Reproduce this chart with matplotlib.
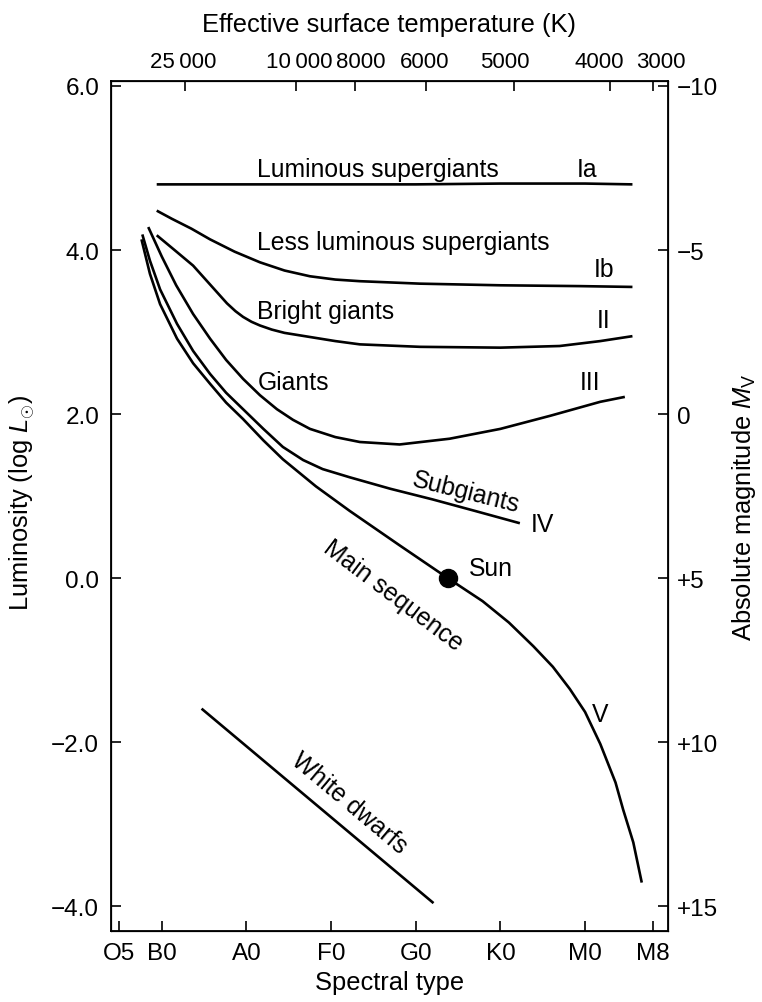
import matplotlib
matplotlib.use("Agg")
import matplotlib.pyplot as plt
import numpy as np

plt.rcParams['font.family'] = ['Liberation Sans', 'DejaVu Sans']
plt.rcParams['mathtext.fontset'] = 'custom'
plt.rcParams['mathtext.rm'] = 'Liberation Sans'
plt.rcParams['mathtext.it'] = 'Liberation Sans:italic'

# ---- data ----
spec_labels = ["O5", "B0", "A0", "F0", "G0", "K0", "M0", "M8"]
spec_pos = [0.5, 1, 2, 3, 4, 5, 6, 6.8]

temp_labels = ["25\u2009000", "10\u2009000", "8000", "6000", "5000", "4000", "3000"]
temp_pos = [1.27, 2.58, 3.28, 4.12, 5.16, 6.30, 6.80]
temp_label_pos = [1.25, 2.62, 3.35, 4.11, 5.05, 6.17, 6.89]

lum_ticks = [6, 4, 2, 0, -2, -4]
lum_labels = ["6.0", "4.0", "2.0", "0.0", "\u22122.0", "\u22124.0"]

mag_ticks = [-10, -5, 0, 5, 10, 15]
mag_labels = ["\u221210", "\u22125", "0", "+5", "+10", "+15"]

ia_x = [0.94, 2.0, 3.0, 4.0, 5.0, 6.0, 6.56]
ia_y = [4.80, 4.80, 4.80, 4.80, 4.81, 4.81, 4.80]

ib_x = [0.94, 1.12, 1.35, 1.57, 1.86, 2.16, 2.45, 2.75, 3.05, 3.34, 4.05, 5.00, 5.94, 6.56]
ib_y = [4.48, 4.38, 4.26, 4.13, 3.98, 3.85, 3.75, 3.68, 3.64, 3.62, 3.59, 3.57, 3.56, 3.55]

ii_x = [0.94, 1.15, 1.37, 1.57, 1.77, 1.87, 1.96, 2.06, 2.16, 2.30, 2.45, 2.75, 3.05, 3.34, 4.05, 5.00, 5.70, 6.18, 6.56]
ii_y = [4.18, 4.00, 3.81, 3.58, 3.35, 3.255, 3.185, 3.125, 3.08, 3.03, 2.99, 2.94, 2.89, 2.85, 2.82, 2.81, 2.83, 2.89, 2.95]

iii_x = [0.84, 1.00, 1.17, 1.37, 1.57, 1.76, 1.96, 2.16, 2.36, 2.55, 2.75, 3.05, 3.34, 3.81, 4.40, 5.00, 5.59, 6.18, 6.47]
iii_y = [4.28, 3.92, 3.57, 3.22, 2.92, 2.66, 2.43, 2.23, 2.06, 1.93, 1.82, 1.72, 1.66, 1.63, 1.70, 1.82, 1.98, 2.15, 2.21]

iv_x = [0.77, 0.86, 0.98, 1.18, 1.37, 1.57, 1.76, 1.96, 2.20, 2.43, 2.67, 2.90, 3.22, 3.70, 4.20, 4.70, 5.23]
iv_y = [4.19, 3.87, 3.52, 3.10, 2.77, 2.49, 2.26, 2.06, 1.82, 1.60, 1.44, 1.33, 1.23, 1.09, 0.96, 0.82, 0.67]

v_x = [0.76, 0.86, 0.98, 1.18, 1.37, 1.57, 1.76, 1.96, 2.20, 2.43, 2.82, 3.22, 3.81, 4.38, 4.79, 5.10, 5.39, 5.62, 5.82, 6.00, 6.18, 6.36, 6.45, 6.57, 6.67]
v_y = [4.13, 3.71, 3.34, 2.92, 2.62, 2.37, 2.14, 1.94, 1.68, 1.45, 1.12, 0.82, 0.40, 0.00, -0.28, -0.54, -0.83, -1.08, -1.35, -1.63, -2.02, -2.49, -2.82, -3.22, -3.71]

wd_x = [1.47, 4.21]
wd_y = [-1.59, -3.96]

sun_x, sun_y = 4.38, 0.0

# ---- figure ----
fig = plt.figure(figsize=(7.62, 10.03), dpi=100)
ax = fig.add_axes([111/762, 1 - 932/1003, (668-111)/762, (932-82)/1003])
XLIM = (0.4, 6.98)
YLIM = (-4.3, 6.06)
ax.set_xlim(*XLIM)
ax.set_ylim(*YLIM)

lw = 1.9
for xs, ys in [(ia_x, ia_y), (ib_x, ib_y), (ii_x, ii_y), (iii_x, iii_y),
               (iv_x, iv_y), (v_x, v_y), (wd_x, wd_y)]:
    ax.plot(xs, ys, color='black', lw=lw, solid_capstyle='butt', solid_joinstyle='round')
ax.plot([sun_x], [sun_y], 'o', color='black', ms=13)

fs_tick = 17.5
fs_top = 16
fs_lab = 18.4
fs_txt = 17.8
ax.set_xticks(spec_pos)
ax.set_xticklabels(spec_labels)
ax.set_yticks(lum_ticks)
ax.set_yticklabels(lum_labels)
ax.tick_params(direction='in', length=7, width=1.2, labelsize=fs_tick)
ax.tick_params(axis='x', pad=8)
ax.tick_params(axis='y', pad=8.5)
for s in ax.spines.values():
    s.set_linewidth(1.3)
ax.set_xlabel("Spectral type", fontsize=fs_lab, labelpad=4)
ax.set_ylabel(r"Luminosity (log $\mathit{L}_{\odot}$)", fontsize=fs_lab)
ax.yaxis.set_label_coords(-0.133, 0.505)

# top axis: ticks at temperature positions, labels nudged apart as in the original
axt = ax.twiny()
axt.set_xlim(*XLIM)
axt.set_xticks(temp_pos)
axt.set_xticklabels([])
axt.tick_params(direction='in', length=7, width=1.2)
for p, lab in zip(temp_label_pos, temp_labels):
    axt.text(p, 1.0 + 9 / 850, lab, transform=axt.get_xaxis_transform(),
             ha='center', va='bottom', fontsize=fs_top)
axt.set_xlabel("Effective surface temperature (K)", fontsize=fs_lab)
axt.xaxis.set_label_coords(0.5, 1.0 + 50 / 850)

# right axis
axr = ax.twinx()
axr.set_ylim(5 - 2.5 * YLIM[0], 5 - 2.5 * YLIM[1])
axr.set_yticks(mag_ticks)
axr.set_yticklabels(mag_labels)
axr.tick_params(direction='in', length=7, width=1.2, labelsize=fs_tick, pad=6.5)
axr.set_ylabel(r"Absolute magnitude $\mathit{M}_{\mathrm{V}}$", fontsize=fs_lab)
axr.yaxis.set_label_coords(1.112, 0.50)

# labels
tk = dict(fontsize=fs_txt, color='black')
ax.text(2.13, 4.99, "Luminous supergiants", ha='left', va='center', **tk)
ax.text(6.02, 4.99, "Ia", ha='center', va='center', **tk)
ax.text(2.13, 4.10, "Less luminous supergiants", ha='left', va='center', **tk)
ax.text(6.22, 3.77, "Ib", ha='center', va='center', **tk)
ax.text(2.13, 3.26, "Bright giants", ha='left', va='center', **tk)
ax.text(6.22, 3.15, "II", ha='center', va='center', **tk)
ax.text(2.13, 2.39, "Giants", ha='left', va='center', **tk)
ax.text(6.06, 2.39, "III", ha='center', va='center', **tk)
ax.text(4.60, 1.06, "Subgiants", ha='center', va='center', rotation=-14,
        rotation_mode='anchor', **tk)
ax.text(5.50, 0.66, "IV", ha='center', va='center', **tk)
ax.text(4.89, 0.13, "Sun", ha='center', va='center', **tk)
ax.text(3.73, -0.20, "Main sequence", ha='center', va='center', rotation=-37,
        rotation_mode='anchor', **tk)
ax.text(6.18, -1.66, "V", ha='center', va='center', **tk)
ax.text(3.22, -2.74, "White dwarfs", ha='center', va='center', rotation=-40,
        rotation_mode='anchor', **tk)

fig.savefig("out.png", dpi=100)
